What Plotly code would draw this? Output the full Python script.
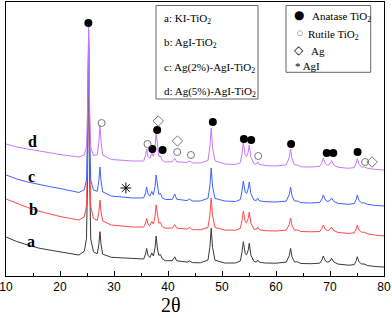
import plotly.graph_objects as go

# ---- data (2theta grid shared by all patterns, intensities in arbitrary offset units) ----
two_theta = [10, 12, 14, 16, 18, 20, 22, 23.5, 24.5, 24.9,
             25.1, 25.3, 25.5, 25.7, 26.2, 26.9, 27.2, 27.4, 27.6, 27.9,
             29.5, 31.5, 33.5, 35.5, 35.85, 36.05, 36.3, 36.65, 37.0, 37.3,
             37.6, 37.8, 38.05, 38.3, 38.6, 38.95, 39.5, 40.8, 41.25, 41.6,
             43.5, 44.0, 44.5, 46, 47.4, 47.75, 48.0, 48.25, 48.7, 50.5,
             52.5, 53.4, 53.7, 53.95, 54.3, 54.55, 54.85, 55.05, 55.35, 55.9,
             56.35, 56.6, 56.9, 58, 60, 61.9, 62.45, 62.7, 62.95, 63.4,
             64.0, 64.6, 66.5, 68.1, 68.5, 68.75, 69.15, 69.6, 70.0, 70.3,
             70.7, 71.5, 73.5, 74.5, 74.85, 75.05, 75.35, 75.8, 76.3, 77.0,
             78.5, 80]

pattern_d = [132, 129, 127, 125, 123, 121.5, 120, 119, 121, 129,
             164, 249, 164, 128.5, 120.5, 121.3, 134.5, 151, 134.5, 121,
             116.5, 115.5, 115, 115, 121, 127, 119.5, 117.5, 123.5, 119.5,
             129, 143, 127.7, 119.6, 120, 115.5, 114, 114.2, 117.6, 114.2,
             113.5, 115.2, 113.2, 113, 115.6, 128.8, 148, 128.5, 115.2, 112,
             111.5, 113.4, 122, 133, 120.8, 119.3, 124, 131, 119, 112.4,
             111.7, 114.2, 111.6, 110.5, 110, 111.1, 118.4, 127, 117.4, 111.3,
             110.8, 109.2, 109, 109.7, 113.4, 118, 112.3, 110.8, 112.2, 115.3,
             111, 108.7, 107.7, 108.5, 113, 117.4, 111.8, 109.3, 109.1, 107.6,
             106.5, 106]

pattern_c = [101, 97, 94, 91.5, 89.5, 87.5, 85, 83.5, 86.3, 96,
             140, 246, 140, 96, 85.8, 84.7, 95.5, 109, 95.3, 84.2,
             80, 79, 78, 78.1, 83.2, 89, 81.9, 79.8, 84.5, 81.2,
             89.4, 101, 88.2, 81.7, 82.5, 78.2, 76.5, 76.6, 82, 76.8,
             75.4, 77, 75, 75, 77.6, 89.9, 108, 89.9, 77.6, 75,
             74.5, 76.5, 84.8, 95, 83.7, 82.5, 87.2, 94, 82.3, 76,
             75.5, 78, 75.2, 74.3, 74, 74.9, 81.4, 89, 80.5, 75.1,
             74.9, 73.3, 73, 73.6, 76.9, 81, 76, 74.5, 75.5, 78,
             74.6, 72.6, 71.7, 72.5, 76.6, 81, 75.6, 73.2, 73.1, 71.6,
             70.5, 70]

pattern_b = [77, 72.5, 68.5, 65, 62, 59.5, 57.5, 56, 59.1, 70,
             119.3, 238, 119, 69.6, 57.6, 55.6, 64.2, 76, 64, 55,
             51, 50, 49, 49, 52.9, 57.5, 51.9, 50.4, 54.6, 52,
             59.9, 71, 58.9, 52.8, 53.7, 49.4, 47.8, 47.9, 51.4, 47.9,
             46.9, 48.5, 46.4, 46.2, 48.6, 60.4, 78, 60.4, 48.6, 46,
             45.8, 47.6, 55.4, 65, 54.2, 53.1, 57.6, 64, 53, 47,
             46.5, 48.9, 46.3, 45.3, 45, 45.9, 51.4, 58, 50.7, 45.9,
             46.1, 44.5, 44.2, 44.5, 47.4, 51, 46.6, 45.4, 46.5, 49,
             45.6, 43.5, 42.6, 43.2, 47, 51, 46.1, 43.9, 43.8, 42.1,
             40.8, 40]

pattern_a = [39, 34.5, 31, 28, 26, 24, 22, 21, 24.7, 37.3,
             94, 231, 94, 37, 24.2, 22.2, 31.8, 44.3, 31.7, 21.9,
             18.7, 18, 17.2, 17, 21.9, 27.5, 20.7, 18.5, 23.1, 20,
             28.1, 40, 27, 20.6, 21.5, 17.1, 15.3, 15.3, 19.2, 15.2,
             13.9, 15, 13.4, 13.2, 15.9, 28.6, 47.7, 28.6, 15.8, 13,
             13, 15.1, 23.7, 34.3, 22.5, 21.1, 25.8, 32.7, 20.9, 14.6,
             13.9, 16, 13.8, 13, 12.8, 13.9, 20.2, 27.7, 19.5, 14.1,
             14.1, 12.5, 12.3, 12.8, 16, 20, 15.1, 13.8, 15, 17.7,
             14, 11.9, 10.8, 11.4, 15.2, 19.3, 14.3, 12.1, 12, 10.4,
             9.4, 9]

# phase markers
anatase_x = [25.25, 37.1, 38.0, 39.0, 48.3, 54.05, 55.4, 62.8, 69.4, 70.6, 75.1]
anatase_y = [253, 127, 146, 126, 154, 137, 136, 132, 123, 123, 124]
rutile_x = [27.7, 36.2, 41.7, 44.25, 56.7, 76.5]
rutile_y = [153, 132, 124, 121, 120, 114]
ag_x = [38.2, 41.75, 77.8]
ag_y = [155, 135, 114]
agi_x = [32.2]
agi_y = [88]

sample_names = ["a", "b", "c", "d"]
sample_legend = ["a: KI-TiO<sub>2</sub>", "b: AgI-TiO<sub>2</sub>",
                 "c: Ag(2%)-AgI-TiO<sub>2</sub>", "d: Ag(5%)-AgI-TiO<sub>2</sub>"]
x_ticks = [10, 20, 30, 40, 50, 60, 70, 80]

colors = ["#3a3a3a", "#ff4a4a", "#4262ff", "#c878ff"]
patterns = [pattern_a, pattern_b, pattern_c, pattern_d]

SERIF = "Liberation Serif"
SANS = "Liberation Sans"

# plot area in pixels: x 6..384, y 2..276
def fx(px):
    return (px - 6) / 378.0

def fy(py):
    return (276 - py) / 274.0

fig = go.Figure()
for name, pat, col in zip(sample_names, patterns, colors):
    fig.add_trace(go.Scatter(x=two_theta, y=pat, mode="lines", name=name,
                             line=dict(color=col, width=1), showlegend=False))

fig.add_trace(go.Scatter(x=anatase_x, y=anatase_y, mode="markers", showlegend=False,
                         marker=dict(symbol="circle", size=8, color="black")))
fig.add_trace(go.Scatter(x=rutile_x, y=rutile_y, mode="markers", showlegend=False,
                         marker=dict(symbol="circle-open", size=7, color="#777",
                                     line=dict(width=1, color="#777"))))
fig.add_trace(go.Scatter(x=ag_x, y=ag_y, mode="markers", showlegend=False,
                         marker=dict(symbol="diamond-open", size=8, color="#777",
                                     line=dict(width=1, color="#777"))))
fig.add_trace(go.Scatter(x=agi_x, y=agi_y, mode="markers", showlegend=False,
                         marker=dict(symbol="asterisk-open", size=9, color="black",
                                     line=dict(width=1, color="black"))))

annotations = []
# sample labels next to curves
label_pos = [(31, 241), (33.3, 209), (31.7, 177), (32.3, 141)]
for name, (px, py) in zip(sample_names, label_pos):
    annotations.append(dict(text="<b>%s</b>" % name, xref="paper", yref="paper",
                            x=fx(px), y=fy(py), xanchor="center", yanchor="middle",
                            showarrow=False, font=dict(family=SERIF, size=16, color="black")))

# legend box 1 text
for i, t in enumerate(sample_legend):
    annotations.append(dict(text=t, xref="paper", yref="paper", x=fx(162), y=fy(19 + 24.3 * i),
                            xanchor="left", yanchor="middle", showarrow=False,
                            font=dict(family=SERIF, size=11, color="black")))

# legend box 2
box2 = [
    dict(text="●", x=fx(299), y=fy(15), font=dict(family="DejaVu Sans", size=12, color="black")),
    dict(text="Anatase TiO<sub>2</sub>", x=fx(309.5), y=fy(17), xanchor="left",
         font=dict(family=SERIF, size=11, color="black")),
    dict(text="○", x=fx(300), y=fy(33), font=dict(family="DejaVu Sans", size=7, color="#444")),
    dict(text="Rutile TiO<sub>2</sub>", x=fx(305.5), y=fy(35), xanchor="left",
         font=dict(family=SERIF, size=11, color="black")),
    dict(text="◇", x=fx(298.5), y=fy(50.5), font=dict(family="DejaVu Sans", size=12, color="black")),
    dict(text="Ag", x=fx(309), y=fy(51), xanchor="left",
         font=dict(family=SERIF, size=11, color="black")),
    dict(text="* AgI", x=fx(293), y=fy(66), xanchor="left",
         font=dict(family=SERIF, size=11, color="black")),
]
for a in box2:
    a.setdefault("xref", "paper")
    a.setdefault("yref", "paper")
    a.setdefault("showarrow", False)
    a.setdefault("yanchor", "middle")
    a.setdefault("xanchor", "center")
annotations += box2

# x-axis title
annotations.append(dict(text="2θ", xref="paper", yref="paper", x=fx(171), y=fy(305),
                        xanchor="center", yanchor="middle", showarrow=False,
                        font=dict(family=SERIF, size=20, color="black")))

shapes = [
    dict(type="rect", xref="paper", yref="paper", x0=fx(156), x1=fx(258), y0=fy(99), y1=fy(5.5),
         line=dict(color="#666", width=1)),
    dict(type="rect", xref="paper", yref="paper", x0=fx(286), x1=fx(370.7), y0=fy(72.3), y1=fy(5.5),
         line=dict(color="#666", width=1)),
]

fig.update_layout(
    width=392, height=318,
    margin=dict(l=6, r=8, t=2, b=42, autoexpand=False),
    paper_bgcolor="white", plot_bgcolor="white",
    annotations=annotations, shapes=shapes,
    xaxis=dict(range=[10, 80], tickvals=x_ticks, ticks="inside", ticklen=5, tickwidth=1,
               tickcolor="black", showline=True, linecolor="black", linewidth=1, mirror=True,
               showgrid=False, zeroline=False, automargin=False, ticklabeloverflow="allow",
               tickfont=dict(family=SANS, size=12, color="black"),
               minor=dict(dtick=5, tick0=5, ticks="inside", ticklen=3, tickcolor="black")),
    yaxis=dict(range=[0, 274], showticklabels=False, ticks="", showline=True, linecolor="black",
               linewidth=1, mirror=True, showgrid=False, zeroline=False, automargin=False),
)

fig.write_html("out.html", config={"displayModeBar": False},
               post_script="document.body.style.margin='0';")
